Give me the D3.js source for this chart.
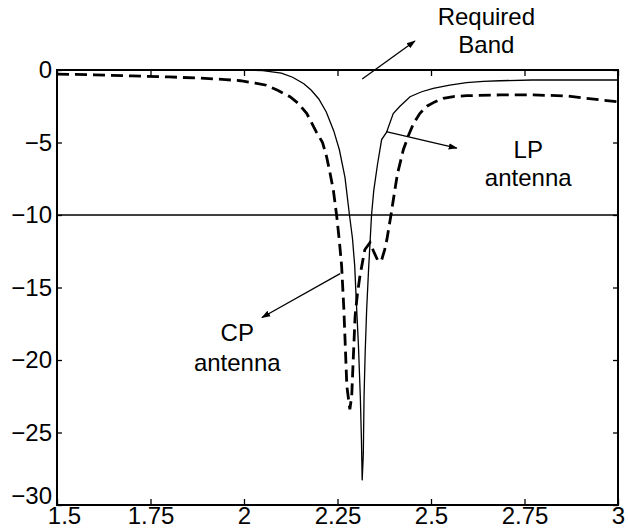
<!DOCTYPE html>
<html>
<head>
<meta charset="utf-8">
<script src="https://cdn.jsdelivr.net/npm/d3@7"></script>
<style>
  body { margin: 0; background: #fff; }
  svg { display: block; font-family: "Liberation Sans", Arial, sans-serif; }
</style>
</head>
<body>
<svg width="628" height="531"></svg>
<script>
// LP antenna (solid)
const lpFreq = [1.50, 1.80, 2.00, 2.05, 2.10, 2.13, 2.16, 2.18, 2.20, 2.22, 2.24, 2.255, 2.27, 2.282,
  2.29, 2.296, 2.30, 2.306, 2.311, 2.314, 2.316, 2.319, 2.321, 2.324, 2.328, 2.333, 2.341, 2.347,
  2.357, 2.368, 2.381, 2.399, 2.417, 2.444, 2.475, 2.506, 2.55, 2.595, 2.64, 2.684, 2.77, 2.90, 3.00];
const lpS11 = [0, 0, 0, -0.05, -0.22, -0.5, -0.95, -1.4, -2.0, -2.9, -4.2, -5.5, -7.4, -10.0,
  -11.6, -13.5, -15.8, -19.0, -22.5, -25.5, -28.3, -26.5, -22.5, -19.5, -16.5, -13.8, -10.0, -8.3,
  -6.5, -4.8, -4.3, -3.0, -2.5, -1.84, -1.5, -1.26, -1.05, -0.87, -0.79, -0.74, -0.69, -0.69, -0.69];

// CP antenna (dashed)
const cpFreq = [1.50, 1.60, 1.70, 1.80, 1.88, 1.95, 1.99, 2.03, 2.06, 2.09, 2.123, 2.145, 2.168, 2.194,
  2.21, 2.221, 2.23, 2.239, 2.248, 2.255, 2.261, 2.267, 2.275, 2.283, 2.288, 2.292, 2.297, 2.303,
  2.310, 2.323, 2.337, 2.348, 2.359, 2.368, 2.376, 2.382, 2.393, 2.399, 2.41, 2.426, 2.44, 2.453,
  2.47, 2.489, 2.51, 2.533, 2.56, 2.595, 2.685, 2.774, 2.863, 2.916, 2.95, 3.00];
const cpS11 = [-0.28, -0.33, -0.41, -0.48, -0.56, -0.66, -0.74, -0.9, -1.05, -1.4, -1.84, -2.3, -3.0, -4.3,
  -5.0, -6.0, -7.1, -8.3, -10.1, -11.8, -13.5, -16.5, -21.8, -23.4, -22.5, -20.0, -17.0, -15.5,
  -14.2, -12.4, -11.9, -12.6, -13.2, -13.1, -12.4, -11.7, -10.0, -9.0, -7.2, -5.5, -4.5, -3.7,
  -3.0, -2.5, -2.2, -1.95, -1.83, -1.77, -1.72, -1.72, -1.79, -1.95, -2.05, -2.2];

const xTicks = [1.5, 1.75, 2, 2.25, 2.5, 2.75, 3];
const xTickLabels = ["1.5", "1.75", "2", "2.25", "2.5", "2.75", "3"];
const yTicks = [0, -5, -10, -15, -20, -25, -30];
const refLevel = -10;

// annotations in data units: [x, y]
const notes = [
  { lines: ["Required", "Band"], at: [2.648, 3.1], lineGap: 1.95, tail: [2.316, -0.62], head: [2.457, 2.0] },
  { lines: ["LP", "antenna"], at: [2.76, -6.08], lineGap: 1.95, tail: [2.380, -4.25], head: [2.569, -5.39] },
  { lines: ["CP", "antenna"], at: [1.982, -18.7], lineGap: 2.06, tail: [2.257, -14.04], head: [2.048, -17.07] }
];

const svg = d3.select("svg");
const width = +svg.attr("width");
const height = +svg.attr("height");
const margin = { top: 70, right: 10, bottom: 26, left: 57 };

const x = d3.scaleLinear().domain([1.5, 3]).range([margin.left, width - margin.right]);
const y = d3.scaleLinear().domain([-30, 0]).range([height - margin.bottom, margin.top]);

const fontSize = "24px";

// axes with inward ticks
svg.append("g")
    .attr("transform", `translate(0,${y(-30)})`)
    .call(d3.axisBottom(x).tickValues(xTicks).tickFormat((d, i) => xTickLabels[i])
        .tickSizeInner(-6).tickSizeOuter(0).tickPadding(3))
    .call(g => g.select(".domain").remove())
    .selectAll("text").style("font-size", fontSize).attr("dy", "0.68em")
    .attr("dx", (d, i) => i === 0 ? 7 : 0);

svg.append("g")
    .attr("transform", `translate(0,${y(0)})`)
    .call(d3.axisTop(x).tickValues(xTicks).tickFormat("").tickSizeInner(-6).tickSizeOuter(0))
    .call(g => g.select(".domain").remove());

svg.append("g")
    .attr("transform", `translate(${x(1.5)},0)`)
    .call(d3.axisLeft(y).tickValues(yTicks).tickSizeInner(-5).tickSizeOuter(0).tickPadding(5))
    .call(g => g.select(".domain").remove())
    .selectAll("text").style("font-size", fontSize)
    .attr("dy", d => d === -30 ? "-0.05em" : "0.32em");

svg.append("g")
    .attr("transform", `translate(${x(3)},0)`)
    .call(d3.axisRight(y).tickValues(yTicks).tickFormat("").tickSizeInner(-5).tickSizeOuter(0))
    .call(g => g.select(".domain").remove());

svg.selectAll(".tick line").attr("stroke", "#000").attr("stroke-width", 1.3);
svg.selectAll(".tick text").attr("fill", "#000");

// frame
svg.append("rect")
    .attr("x", x(1.5)).attr("y", y(0))
    .attr("width", x(3) - x(1.5)).attr("height", y(-30) - y(0))
    .attr("fill", "none").attr("stroke", "#000").attr("stroke-width", 2);

// -10 dB line
svg.append("line")
    .attr("x1", x(1.5)).attr("x2", x(3))
    .attr("y1", y(refLevel)).attr("y2", y(refLevel))
    .attr("stroke", "#000").attr("stroke-width", 1.6);

const line = d3.line().x(d => x(d[0])).y(d => y(d[1]));

svg.append("path")
    .datum(d3.zip(lpFreq, lpS11))
    .attr("d", line)
    .attr("fill", "none").attr("stroke", "#000").attr("stroke-width", 1.3);

svg.append("path")
    .datum(d3.zip(cpFreq, cpS11))
    .attr("d", line)
    .attr("fill", "none").attr("stroke", "#000").attr("stroke-width", 2.8)
    .attr("stroke-dasharray", "12,6");

// arrowhead
svg.append("defs").append("marker")
    .attr("id", "arrow")
    .attr("viewBox", "0 0 10 10")
    .attr("refX", 9).attr("refY", 5)
    .attr("markerWidth", 9).attr("markerHeight", 9)
    .attr("markerUnits", "userSpaceOnUse")
    .attr("orient", "auto")
    .append("path")
    .attr("d", "M0,1.5L10,5L0,8.5Z")
    .attr("fill", "#000");

notes.forEach(n => {
    svg.append("line")
        .attr("x1", x(n.tail[0])).attr("y1", y(n.tail[1]))
        .attr("x2", x(n.head[0])).attr("y2", y(n.head[1]))
        .attr("stroke", "#000").attr("stroke-width", 1.3)
        .attr("marker-end", "url(#arrow)");

    n.lines.forEach((t, i) => {
        svg.append("text")
            .attr("x", x(n.at[0]))
            .attr("y", y(n.at[1] - i * n.lineGap))
            .attr("text-anchor", "middle")
            .style("font-size", fontSize)
            .attr("fill", "#000")
            .text(t);
    });
});
</script>
</body>
</html>
